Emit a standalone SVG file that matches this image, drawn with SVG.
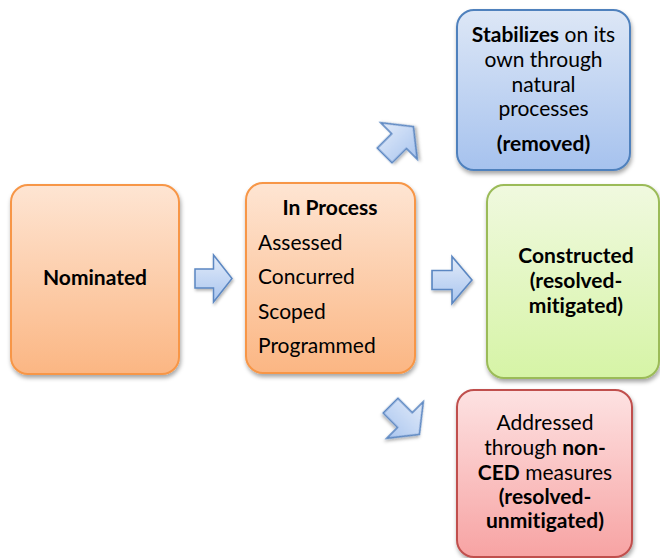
<svg xmlns="http://www.w3.org/2000/svg" width="660" height="558" viewBox="0 0 660 558">
<style>
text { font-family: Lato, "Open Sans", "Liberation Sans", sans-serif; fill: #000; font-variant-ligatures: none; }
.t { font-size: 21px; text-anchor: middle; }
.l { font-size: 21px; }
.b { font-weight: bold; }
.box { stroke-width: 2; filter: url(#sh); }
.arr { fill: url(#ga); stroke: #5b87c2; stroke-width: 1.5; stroke-linejoin: miter; filter: url(#sh2); }
</style>
<defs>
<linearGradient id="go" x1="0" y1="0" x2="0" y2="1"><stop offset="0" stop-color="#fee5d3"/><stop offset="1" stop-color="#fbb683"/></linearGradient>
<linearGradient id="gb" x1="0" y1="0" x2="0" y2="1"><stop offset="0" stop-color="#dde7f6"/><stop offset="1" stop-color="#a6c2ee"/></linearGradient>
<linearGradient id="gg" x1="0" y1="0" x2="0" y2="1"><stop offset="0" stop-color="#f0f9df"/><stop offset="1" stop-color="#d6f4a6"/></linearGradient>
<linearGradient id="gr" x1="0" y1="0" x2="0" y2="1"><stop offset="0" stop-color="#fde2e2"/><stop offset="1" stop-color="#f7a3a3"/></linearGradient>
<linearGradient id="ga" x1="0" y1="0" x2="0" y2="1"><stop offset="0" stop-color="#e2ebf9"/><stop offset="1" stop-color="#a9c5ef"/></linearGradient>
<filter id="sh" x="-10%" y="-10%" width="125%" height="125%"><feDropShadow dx="1" dy="3" stdDeviation="2" flood-color="#000" flood-opacity="0.35"/></filter>
<filter id="sh2" x="-20%" y="-20%" width="150%" height="150%"><feDropShadow dx="1" dy="2" stdDeviation="1.5" flood-color="#000" flood-opacity="0.3"/></filter>
<path id="arrow" d="M -18.5 -9.5 L 0 -9.5 L 0 -23.5 L 18.5 0 L 0 23.5 L 0 9.5 L -18.5 9.5 Z"/>
</defs>

<g id="connectors">
<use href="#arrow" class="arr" transform="translate(213.5 278.5)"/>
<use href="#arrow" class="arr" transform="translate(452 280) scale(1.08 1)"/>
<use href="#arrow" class="arr" transform="translate(399 141) rotate(-45) scale(1.1)"/>
<use href="#arrow" class="arr" transform="translate(405 420) rotate(45) scale(1.1)"/>
</g>

<g id="nominated">
<rect class="box" x="11" y="185" width="168" height="189" rx="17" fill="url(#go)" stroke="#f79646"/>
<text class="t b" x="95" y="285">Nominated</text>
</g>

<g id="in-process">
<rect class="box" x="246" y="183" width="169" height="190" rx="17" fill="url(#go)" stroke="#f79646"/>
<text class="t b" x="330" y="215">In Process</text>
<text class="l" x="258" y="250">Assessed</text>
<text class="l" x="258" y="284">Concurred</text>
<text class="l" x="258" y="319">Scoped</text>
<text class="l" x="258" y="353">Programmed</text>
</g>

<g id="stabilizes">
<rect class="box" x="457" y="10" width="173" height="160" rx="17" fill="url(#gb)" stroke="#4f81bd"/>
<text class="t" x="543.5" y="42"><tspan class="b">Stabilizes</tspan> on its</text>
<text class="t" x="543.5" y="67">own through</text>
<text class="t" x="543.5" y="92">natural</text>
<text class="t" x="543.5" y="116">processes</text>
<text class="t b" x="543.5" y="151">(removed)</text>
</g>

<g id="constructed">
<rect class="box" x="487" y="185" width="172" height="193" rx="17" fill="url(#gg)" stroke="#9bbb59"/>
<text class="t b" x="576" y="263">Constructed</text>
<text class="t b" x="576" y="288">(resolved-</text>
<text class="t b" x="576" y="313">mitigated)</text>
</g>

<g id="addressed">
<rect class="box" x="457" y="390" width="175" height="167" rx="17" fill="url(#gr)" stroke="#c0504d"/>
<text class="t" x="545" y="430">Addressed</text>
<text class="t" x="545" y="455">through <tspan class="b">non-</tspan></text>
<text class="t" x="545" y="480"><tspan class="b">CED</tspan> measures</text>
<text class="t b" x="545" y="504">(resolved-</text>
<text class="t b" x="545" y="528">unmitigated)</text>
</g>
</svg>
